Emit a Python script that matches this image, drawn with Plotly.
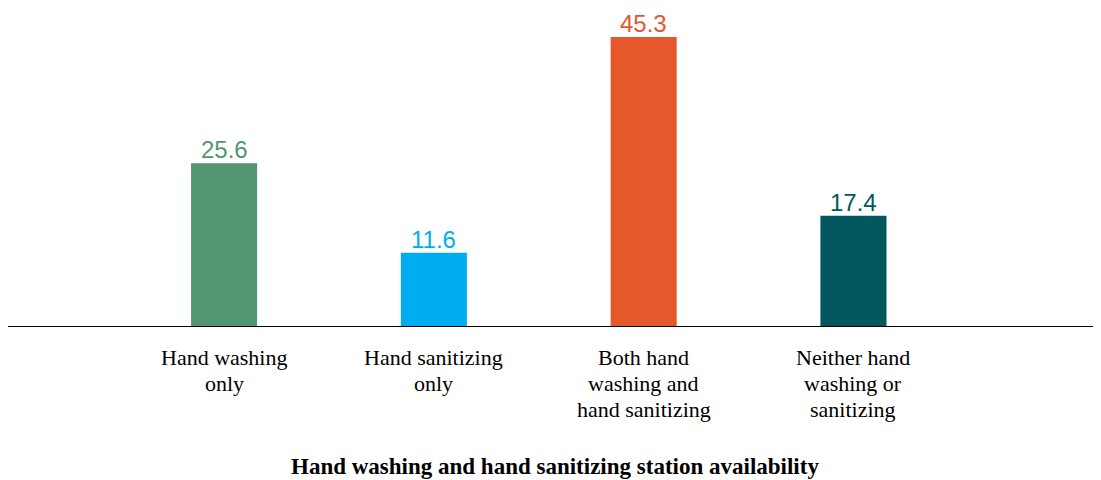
import plotly.graph_objects as go

# dane
categories = [
    ["Hand washing", "only"],
    ["Hand sanitizing", "only"],
    ["Both hand", "washing and", "hand sanitizing"],
    ["Neither hand", "washing or", "sanitizing"],
]
values = [25.6, 11.6, 45.3, 17.4]
colors = ["#529672", "#00AEEF", "#E4582C", "#03585F"]
x_title = "Hand washing and hand sanitizing station availability"

x_pos = list(range(len(values)))
serif = "Liberation Serif, Times New Roman"

fig = go.Figure(
    go.Bar(
        x=x_pos,
        y=values,
        width=0.315,
        marker=dict(color=colors, line=dict(width=0)),
    )
)

# etykiety wartosci nad slupkami
annotations = []
for pos, v, c in zip(x_pos, values, colors):
    annotations.append(dict(
        x=pos, y=v, xref="x", yref="y",
        text=f"{v:.1f}", showarrow=False,
        yanchor="bottom", yshift=-2,
        font=dict(family="Liberation Sans, Arial", size=24, color=c),
    ))

# etykiety kategorii (odstep linii jak w oryginale)
for pos, lines in zip(x_pos, categories):
    for i, line in enumerate(lines):
        annotations.append(dict(
            x=pos, y=0, xref="x", yref="y",
            text=line, showarrow=False,
            yanchor="middle", yshift=-(30 + 26 * i),
            font=dict(family=serif, size=22, color="black"),
        ))

annotations.append(dict(
    x=0.5, y=0, xref="paper", yref="paper",
    text=f"<b>{x_title}</b>", showarrow=False,
    yanchor="middle", yshift=-139,
    font=dict(family=serif, size=23, color="black"),
))

fig.update_layout(
    width=1093,
    height=472,
    margin=dict(l=0, r=0, t=0, b=153),
    plot_bgcolor="white",
    paper_bgcolor="white",
    showlegend=False,
    xaxis=dict(
        range=[-1.03, 4.18],
        showticklabels=False,
        showgrid=False,
        zeroline=False,
        showline=False,
        ticks="",
    ),
    yaxis=dict(
        range=[0, 49.84],
        visible=False,
        showgrid=False,
    ),
    annotations=annotations,
    shapes=[
        dict(type="line", xref="paper", yref="y", x0=0, x1=1, y0=0, y1=0,
             line=dict(color="black", width=2)),
    ],
)

fig.write_html("out.html")
